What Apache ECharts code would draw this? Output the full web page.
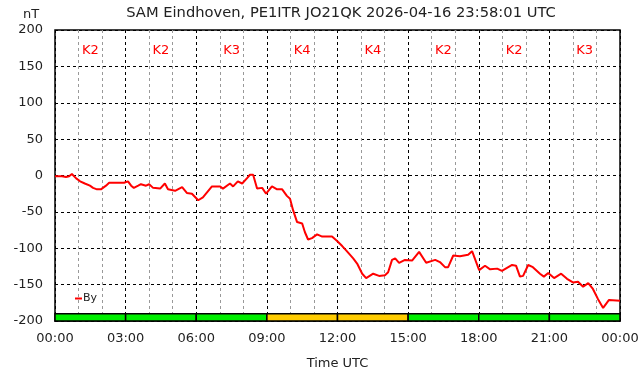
<!DOCTYPE html>
<html>
<head>
<meta charset="utf-8">
<title>SAM Eindhoven</title>
<script src="https://cdn.jsdelivr.net/npm/echarts@6/dist/echarts.min.js"></script>
<style>
  html, body { margin: 0; padding: 0; background: #fff; }
  #main { width: 642px; height: 376px; }
</style>
</head>
<body>
<div id="main"></div>
<script>
// minutes since 00:00 UTC and By in nT
var minutes = [0, 18, 28, 36, 43, 48, 54, 64, 76, 89, 97, 107, 117, 130, 138, 153, 176, 186, 194, 201,
  212, 219, 232, 240, 250, 268, 280, 288, 306, 324, 336, 349, 365, 377, 400, 421, 428, 446, 454, 466,
  477, 489, 497, 505, 515, 528, 538, 553, 566, 579, 591, 599, 607, 617, 630, 637, 645, 655, 668, 681,
  706, 719, 732, 742, 760, 770, 783, 793, 811, 826, 841, 849, 859, 867, 877, 892, 910, 928, 946, 969,
  981, 994, 1002, 1015, 1032, 1053, 1063, 1081, 1096, 1109, 1127, 1139, 1165, 1175, 1185, 1193, 1206, 1218, 1236, 1246,
  1257, 1272, 1290, 1305, 1320, 1333, 1346, 1359, 1371, 1384, 1397, 1412, 1440];
var byValues = [-1, -1, -2, -1, 2, 1, -4, -8, -11, -14, -17, -19, -19, -14, -10, -10, -10, -8, -14, -17,
  -14, -12, -14, -12, -17, -18, -11, -19, -21, -16, -24, -25, -34, -30, -15, -15, -18, -11, -15, -8,
  -11, -4, 1, 1, -18, -17, -25, -15, -19, -19, -28, -32, -48, -64, -66, -78, -88, -86, -81, -84,
  -84, -90, -97, -103, -114, -121, -135, -141, -135, -138, -137, -133, -116, -114, -120, -116, -117, -105, -120, -116,
  -119, -126, -126, -110, -111, -109, -104, -130, -124, -129, -128, -131, -123, -124, -139, -138, -123, -126, -135, -139,
  -134, -141, -135, -142, -147, -146, -153, -148, -156, -170, -182, -171, -172];

// K index per 3 hour block
var kIndex = [2, 2, 3, 4, 4, 2, 2, 3];
var timeLabels = ["00:00", "03:00", "06:00", "09:00", "12:00", "15:00", "18:00", "21:00", "00:00"];

var font = "DejaVu Sans";
var myChart = echarts.init(document.getElementById("main"));

var lineData = minutes.map(function (m, i) { return [m, byValues[i]]; });
var kData = kIndex.map(function (k, i) { return [i * 180, (i + 1) * 180, k]; });

var option = {
  animation: false,
  backgroundColor: "#fff",
  title: {
    text: "SAM Eindhoven, PE1ITR JO21QK 2026-04-16 23:58:01 UTC",
    left: 336,
    textAlign: "center",
    top: 1,
    textStyle: { fontFamily: font, fontSize: 14.7, fontWeight: "normal", color: "#222" }
  },
  graphic: [
    { type: "text", x: 31, y: 15, style: { text: "nT", font: "13px " + font, fill: "#222", align: "center", verticalAlign: "middle" } }
  ],
  legend: {
    left: 70,
    top: 288,
    itemWidth: 7,
    itemHeight: 2,
    itemGap: 2,
    icon: "rect",
    data: ["By"],
    textStyle: { fontFamily: font, fontSize: 11, color: "#222", padding: [0, 0, 0, -4] }
  },
  grid: {
    left: 55, right: 22, top: 30, bottom: 55,
    outerBoundsMode: "none",
    show: true, borderColor: "#000", borderWidth: 1.5
  },
  xAxis: {
    type: "value",
    min: 0,
    max: 1440,
    interval: 180,
    name: "Time UTC",
    nameLocation: "middle",
    nameGap: 36,
    nameTextStyle: { fontFamily: font, fontSize: 13, color: "#222" },
    axisLine: { show: false },
    axisTick: { show: false },
    axisLabel: {
      margin: 11,
      fontFamily: font,
      fontSize: 13,
      color: "#222",
      formatter: function (v) { return timeLabels[Math.round(v / 180)]; }
    },
    splitLine: { show: true, lineStyle: { color: "#000", type: [3, 3], width: 1 } },
    minorTick: { show: false, splitNumber: 3 },
    minorSplitLine: { show: true, lineStyle: { color: "#999", type: [3, 3], width: 1 } }
  },
  yAxis: {
    type: "value",
    min: -200,
    max: 200,
    interval: 50,
    axisLine: { show: false },
    axisTick: { show: false },
    axisLabel: { margin: 12, fontFamily: font, fontSize: 13, color: "#222" },
    splitLine: { show: true, lineStyle: { color: "#000", type: [3, 3], width: 1 } }
  },
  series: [
    {
      name: "By",
      type: "line",
      data: lineData,
      showSymbol: false,
      color: "#ff0000",
      lineStyle: { color: "#ff0000", width: 2 },
      z: 5
    },
    {
      name: "K",
      type: "custom",
      data: kData,
      silent: true,
      renderItem: function (params, api) {
        var s = api.value(0), e = api.value(1), k = api.value(2);
        var p1 = api.coord([s, -190]);
        var p2 = api.coord([e, -200]);
        var t = api.coord([(s + e) / 2, 172]);
        return {
          type: "group",
          children: [
            {
              type: "rect",
              shape: { x: p1[0], y: p1[1], width: p2[0] - p1[0], height: p2[1] - p1[1] },
              style: { fill: k >= 4 ? "#ffcc00" : "#00ee00", stroke: "#000", lineWidth: 1.5 }
            },
            {
              type: "text",
              x: t[0],
              y: t[1],
              style: { text: "K" + k, fill: "#ff0000", font: "13px " + font, align: "center", verticalAlign: "middle" }
            }
          ]
        };
      },
      z: 4
    }
  ]
};
myChart.setOption(option);
</script>
</body>
</html>
